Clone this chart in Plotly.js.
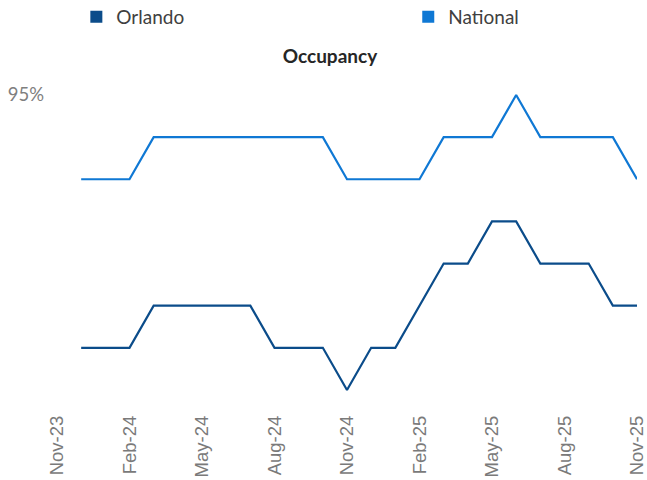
<!DOCTYPE html>
<html>
<head>
<meta charset="utf-8">
<script src="https://cdn.plot.ly/plotly-3.0.1.min.js"></script>
<style>html,body{margin:0;padding:0;background:#fff}#chart{width:647px;height:480px}</style>
</head>
<body>
<div id="chart"></div>
<script>
// Axis categories (Nov-23 .. Nov-25)
const axisMonths = ['Nov-23','Dec-23','Jan-24','Feb-24','Mar-24','Apr-24','May-24','Jun-24','Jul-24','Aug-24','Sep-24','Oct-24','Nov-24','Dec-24','Jan-25','Feb-25','Mar-25','Apr-25','May-25','Jun-25','Jul-25','Aug-25','Sep-25','Oct-25','Nov-25'];
// Data months (Dec-23 .. Nov-25)
const dataMonths = axisMonths.slice(1);
const orlando  = [89,89,89,90,90,90,90,90,89,89,89,88,89,89,90,91,91,92,92,91,91,91,90,90];
const national = [93,93,93,94,94,94,94,94,94,94,94,93,93,93,93,94,94,94,95,94,94,94,94,93];
const tickLabels = ['Nov-23','Feb-24','May-24','Aug-24','Nov-24','Feb-25','May-25','Aug-25','Nov-25'];
const yTicks = [95];
const yTickText = ['95%'];

const cOrl = '#0b4c8a';
const cNat = '#0f78d4';
const calib = 'Lato, "Open Sans", sans-serif';

const traces = [
  {x: dataMonths, y: orlando, type: 'scatter', mode: 'lines', name: 'Orlando',
   line: {color: cOrl, width: 2.2}, showlegend: false},
  {x: dataMonths, y: national, type: 'scatter', mode: 'lines', name: 'National',
   line: {color: cNat, width: 2.2}, showlegend: false},
  {x: [null], y: [null], type: 'bar', name: 'Orlando', marker: {color: cOrl}, showlegend: true, legend: 'legend'},
  {x: [null], y: [null], type: 'bar', name: 'National', marker: {color: cNat}, showlegend: true, legend: 'legend2'}
];

const legBase = {orientation: 'h', xanchor: 'left', xref: 'container', yref: 'container',
                 y: 0.9646, yanchor: 'middle',
                 font: {size: 19, color: '#404040', family: calib}, bgcolor: 'rgba(0,0,0,0)'};

const layout = {
  width: 647, height: 480,
  margin: {l: 57, r: 10, t: 94, b: 69},
  paper_bgcolor: '#fff', plot_bgcolor: '#fff',
  font: {family: calib, color: '#404040', size: 16},
  title: {text: '<b>Occupancy</b>', x: 0.51, xanchor: 'center', y: 0.883, yanchor: 'middle',
          font: {size: 19, color: '#262626', family: calib}},
  showlegend: true,
  legend: Object.assign({}, legBase, {x: 0.118}),
  legend2: Object.assign({}, legBase, {x: 0.631}),
  xaxis: {type: 'category', categoryorder: 'array', categoryarray: axisMonths,
          range: [0, 24], tickmode: 'array', tickvals: tickLabels, ticktext: tickLabels,
          tickangle: -90, tickfont: {size: 18.5, color: '#7a7a7a', family: '"Liberation Sans", Arial, sans-serif'},
          showgrid: false, zeroline: false, showline: false, ticks: '', automargin: false},
  yaxis: {range: [87.5, 95.024], tickmode: 'array', tickvals: yTicks, ticktext: yTickText,
          showgrid: false, zeroline: false, showline: false, ticks: '',
          tickfont: {size: 18.5, color: '#7f7f7f', family: calib}, ticklabelstandoff: 12, automargin: false}
};

Plotly.newPlot('chart', traces, layout, {displayModeBar: false, staticPlot: true});
</script>
</body>
</html>
